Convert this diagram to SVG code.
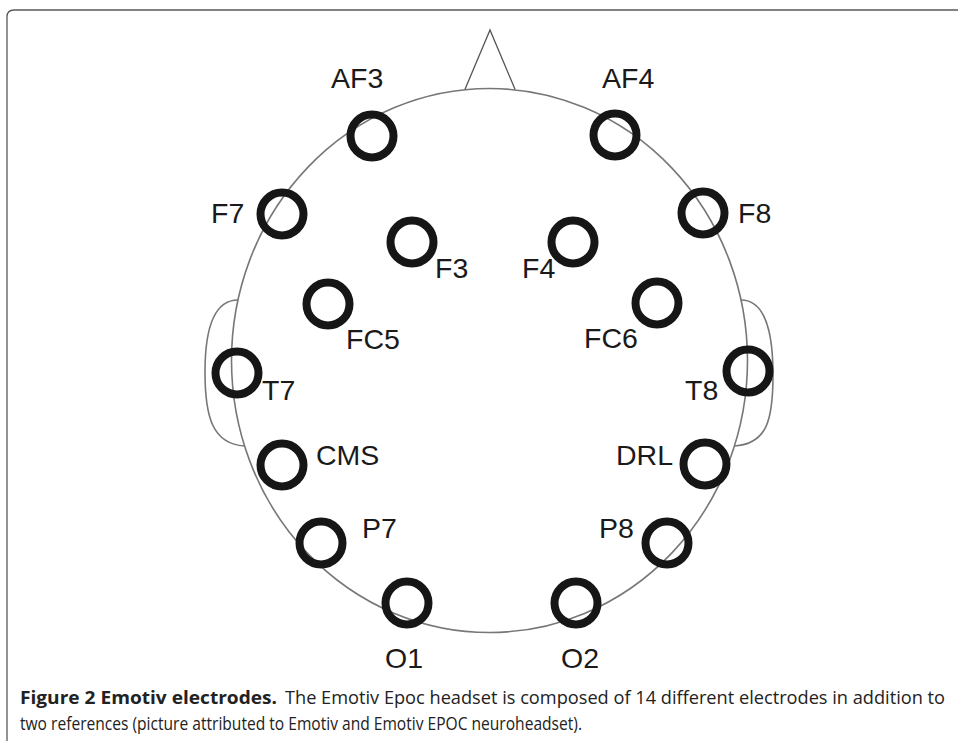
<svg xmlns="http://www.w3.org/2000/svg" width="958" height="741" viewBox="0 0 958 741">
<style>
.frame{fill:none;stroke:#5a5a5a;stroke-width:1.3}
.head{fill:none;stroke:#777;stroke-width:1.6}
.nose{fill:none;stroke:#555;stroke-width:1.3}
.ring{fill:none;stroke:#161616;stroke-width:8}
.lbl{font-family:"Liberation Sans",Arial,sans-serif;font-size:28.5px;fill:#1a1a1a}
.cap{font-family:"Open Sans","Liberation Sans",sans-serif;font-size:18.2px;fill:#222}
.capb{font-weight:bold}
</style>
<rect width="958" height="741" fill="#fff"/>
<path class="frame" d="M7,741 V17 Q7,10 14,10 H958"/>
<g id="head">
<ellipse class="head" cx="489.5" cy="360.5" rx="258" ry="272"/>
<path class="nose" d="M465,89.3 L490,30 L515,89.3"/>
<path class="head" d="M238,300 C214,300 205,330 205,372 C205,416 212,444 244.6,446"/>
<path class="head" d="M741,300 C765,300 773,330 773,375 C773,420 767,444 734.4,446"/>
</g>
<g id="connectors"></g>
<g id="AF3"><circle class="ring" cx="372" cy="136" r="21.5"/><text class="lbl" x="331" y="88">AF3</text></g>
<g id="AF4"><circle class="ring" cx="615" cy="135" r="21.5"/><text class="lbl" x="602" y="88">AF4</text></g>
<g id="F7"><circle class="ring" cx="282" cy="214" r="21.5"/><text class="lbl" x="211" y="223">F7</text></g>
<g id="F8"><circle class="ring" cx="703" cy="213" r="21.5"/><text class="lbl" x="738" y="223">F8</text></g>
<g id="F3"><circle class="ring" cx="412" cy="242" r="21.5"/><text class="lbl" x="435" y="278">F3</text></g>
<g id="F4"><circle class="ring" cx="573" cy="242" r="21.5"/><text class="lbl" x="522" y="278">F4</text></g>
<g id="FC5"><circle class="ring" cx="328" cy="304" r="21.5"/><text class="lbl" x="346" y="349">FC5</text></g>
<g id="FC6"><circle class="ring" cx="657" cy="303" r="21.5"/><text class="lbl" x="584" y="348">FC6</text></g>
<g id="T7"><circle class="ring" cx="237" cy="373" r="21.5"/><text class="lbl" x="262" y="400">T7</text></g>
<g id="T8"><circle class="ring" cx="748" cy="371" r="21.5"/><text class="lbl" x="685" y="400">T8</text></g>
<g id="CMS"><circle class="ring" cx="282" cy="465" r="21.5"/><text class="lbl" x="316" y="465">CMS</text></g>
<g id="DRL"><circle class="ring" cx="705" cy="464" r="21.5"/><text class="lbl" x="673" y="465" text-anchor="end">DRL</text></g>
<g id="P7"><circle class="ring" cx="321" cy="543" r="21.5"/><text class="lbl" x="362" y="538">P7</text></g>
<g id="P8"><circle class="ring" cx="667" cy="543" r="21.5"/><text class="lbl" x="599" y="538">P8</text></g>
<g id="O1"><circle class="ring" cx="407" cy="603" r="21.5"/><text class="lbl" x="385" y="668">O1</text></g>
<g id="O2"><circle class="ring" cx="576" cy="603" r="21.5"/><text class="lbl" x="561" y="668">O2</text></g>
<g id="caption">
<text class="cap capb" x="20" y="704" textLength="257" lengthAdjust="spacingAndGlyphs">Figure 2 Emotiv electrodes.</text>
<text class="cap" x="285" y="704" textLength="660" lengthAdjust="spacingAndGlyphs">The Emotiv Epoc headset is composed of 14 different electrodes in addition to</text>
<text class="cap" x="20" y="730" textLength="562" lengthAdjust="spacingAndGlyphs">two references (picture attributed to Emotiv and Emotiv EPOC neuroheadset).</text>
</g>
</svg>
